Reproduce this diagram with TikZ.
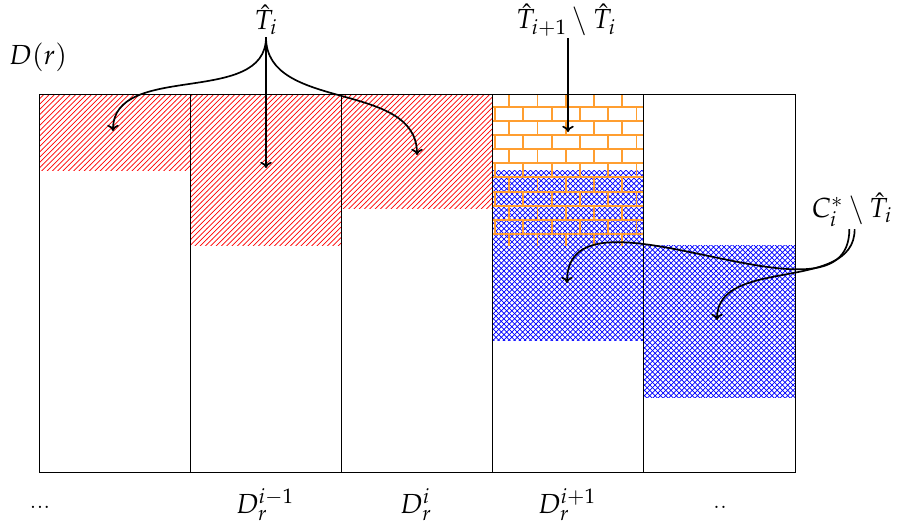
\documentclass[tikz,border=0pt]{standalone}
\usepackage{mathpazo}
\usetikzlibrary{patterns,arrows.meta}
\definecolor{brickorange}{RGB}{255,158,48}
\pgfdeclarepatternformonly{bigbricks}{\pgfqpoint{-1pt}{-1pt}}{\pgfqpoint{17pt}{17pt}}{\pgfqpoint{16pt}{16pt}}
{
  \pgfsetlinewidth{1.1pt}
  \pgfpathmoveto{\pgfqpoint{0pt}{0pt}}\pgfpathlineto{\pgfqpoint{16pt}{0pt}}
  \pgfpathmoveto{\pgfqpoint{0pt}{8pt}}\pgfpathlineto{\pgfqpoint{16pt}{8pt}}
  \pgfpathmoveto{\pgfqpoint{0pt}{0pt}}\pgfpathlineto{\pgfqpoint{0pt}{8pt}}
  \pgfpathmoveto{\pgfqpoint{8pt}{8pt}}\pgfpathlineto{\pgfqpoint{8pt}{16pt}}
  \pgfusepath{stroke}
}
\begin{document}
\begin{tikzpicture}[x=0.5656pt,y=-0.5656pt,
  arr/.style={-{To[length=3.5pt,width=6.5pt]},line width=0.95pt},
  lab/.style={font=\fontsize{15.6}{18}\selectfont,inner sep=1pt},
  redfill/.style={pattern=north east lines,pattern color=red},
  bluefill/.style={pattern=crosshatch,pattern color=blue},
  brickfill/.style={pattern=bigbricks,pattern color=brickorange},
  gridline/.style={draw=black}]
\useasboundingbox (0,0) rectangle (917,531);
% shaded regions
\fill[redfill] (39,94) rectangle (190,170);
\fill[redfill] (190,94) rectangle (341,245);
\fill[redfill] (341,94) rectangle (492,208);
\fill[bluefill] (492,170) rectangle (643,340);
\fill[brickfill] (492,94) rectangle (643,245);
\fill[bluefill] (643,245) rectangle (795,397);
% frame and columns
\draw[gridline] (39,94) rectangle (795,472);
\foreach \x in {190,341,492,643} \draw[gridline] (\x,94) -- (\x,472);
% labels
\node[lab] (Dr) at (38,57) {$D(r)$};
\node[lab] (Ti) at (266,20) {$\hat{T}_i$};
\node[lab] (Tii) at (566,20) {$\hat{T}_{i+1}\setminus\hat{T}_i$};
\node[lab] (Ci) at (852,210) {$C_i^*\setminus\hat{T}_i$};
\node[lab] (b1) at (40,507) {...};
\node[lab] (b2) at (265,505) {$D_r^{i-1}$};
\node[lab] (b3) at (416,505) {$D_r^{i}$};
\node[lab] (b4) at (567,505) {$D_r^{i+1}$};
\node[lab] (b5) at (720,507) {..};
% arrow targets
\coordinate (a1) at (113,131);
\coordinate (a2) at (266,168);
\coordinate (a3) at (417,155);
\coordinate (a4) at (568,132);
\coordinate (a5) at (567,283);
\coordinate (a6) at (717,320);
% arrows
\draw[arr] (Ti.south) to[out=-90,in=90] (a1);
\draw[arr] (Ti.south) -- (a2);
\draw[arr] (Ti.south) to[out=-90,in=90] (a3);
\draw[arr] (Tii.south -| a4) -- (a4);
\draw[arr] ([xshift=-1.5]Ci.south) to[out=-90,in=90] (a5);
\draw[arr] ([xshift=1.5]Ci.south) to[out=-90,in=90] (a6);
\end{tikzpicture}
\end{document}
